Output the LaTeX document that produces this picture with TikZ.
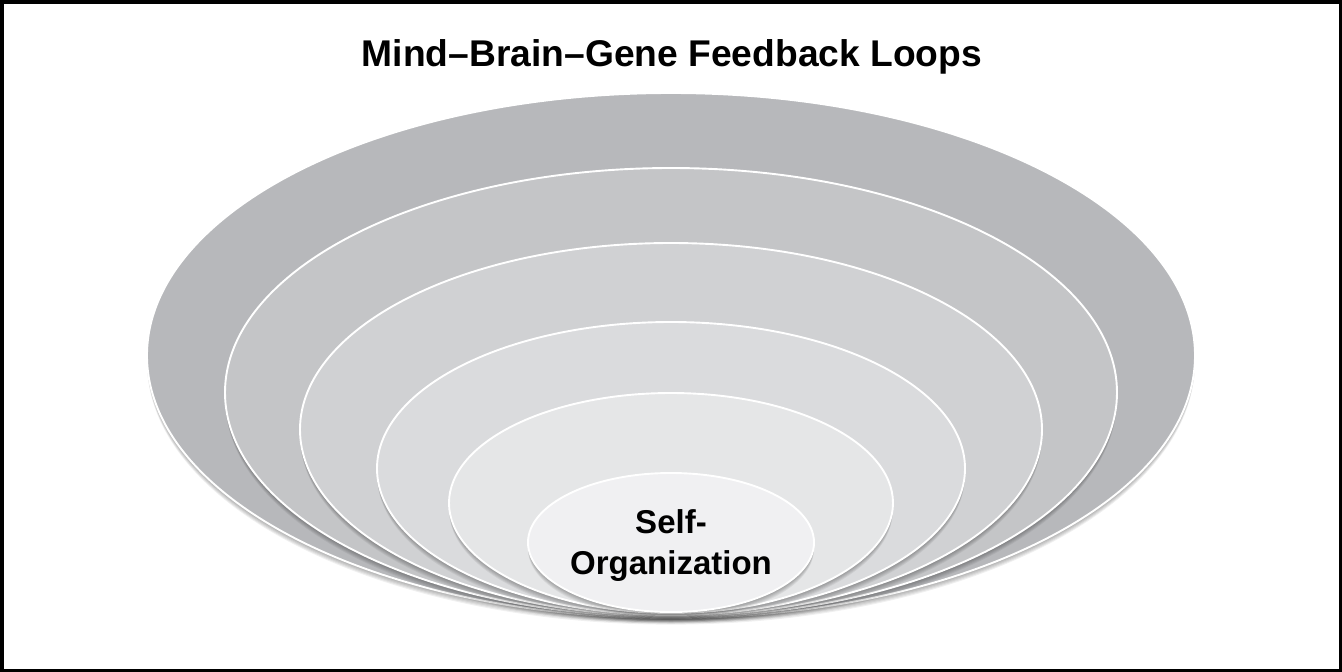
\documentclass[tikz,border=0pt]{standalone}
\usepackage{fontspec}
\setmainfont{Liberation Sans}
\definecolor{lvA}{RGB}{183,184,187}
\definecolor{lvB}{RGB}{196,197,199}
\definecolor{lvC}{RGB}{208,209,211}
\definecolor{lvD}{RGB}{218,219,221}
\definecolor{lvE}{RGB}{229,230,231}
\definecolor{lvF}{RGB}{240,240,242}
\tikzset{
  ring/.style={fill=#1, draw=white, line width=1.9pt},
  shade layer/.style={fill=black, fill opacity=0.06, draw=none},
  titletext/.style={font=\bfseries\fontsize{37.2}{44}\selectfont, anchor=base},
  coretext/.style={font=\bfseries\fontsize{33}{41}\selectfont, align=center}
}
\newcommand{\layer}[5]{%
  \foreach \s in {1,2,3,4,5,6}{\path[shade layer] (#1,#2+\s*1.1) ellipse [x radius=#3, y radius=#4];}
  \path[ring=#5] (#1,#2) ellipse [x radius=#3, y radius=#4];
}
\begin{document}
\begin{tikzpicture}[x=1pt,y=-1pt]
\useasboundingbox (0,0) rectangle (1342,672);
\fill[white] (0,0) rectangle (1342,672);
\draw[black, line width=3.5pt] (1.75,1.75) rectangle (1340.25,670.25);
\node[titletext] (title) at (672,66) {Mind–Brain–Gene Feedback Loops};
\layer{671}{355.5}{524}{262.5}{lvA}
\layer{671}{392.5}{446}{224.5}{lvB}
\layer{671}{429.5}{371}{186.5}{lvC}
\layer{671}{468.5}{294}{146.5}{lvD}
\layer{671}{503}{222}{110}{lvE}
\layer{671}{542.5}{143}{69.5}{lvF}
\node[coretext] (core) at (671,546) {Self-\\Organization};
\end{tikzpicture}
\end{document}
